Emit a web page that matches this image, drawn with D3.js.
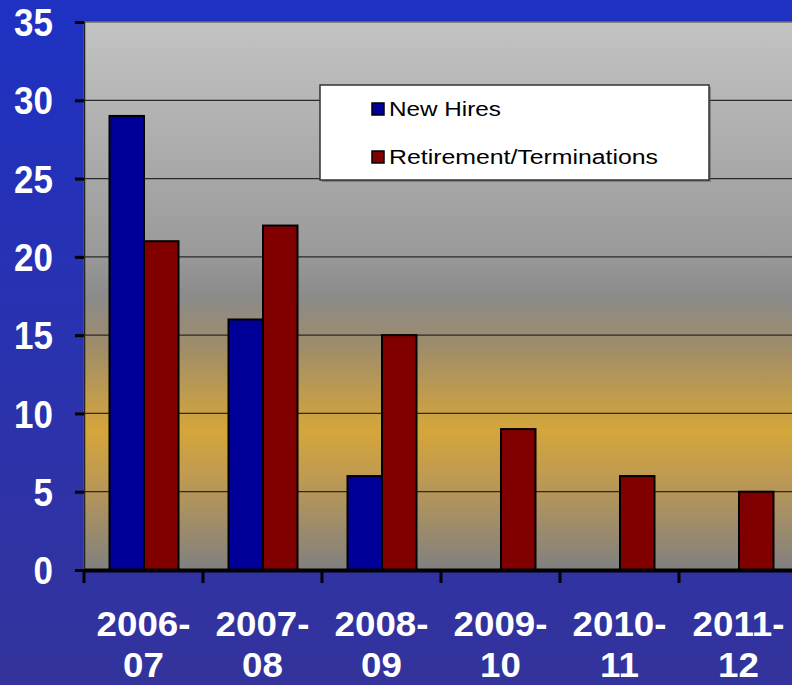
<!DOCTYPE html>
<html><head><meta charset="utf-8">
<script src="https://cdn.jsdelivr.net/npm/d3@7"></script>
<style>body{margin:0;overflow:hidden}svg{display:block}</style>
</head><body>
<script>
const categories = [["2006-","07"],["2007-","08"],["2008-","09"],["2009-","10"],["2010-","11"],["2011-","12"]];
const seriesNames = ["New Hires","Retirement/Terminations"];
const newHires = [29,16,6,0,0,0];
const retirements = [21,22,15,9,6,5];
const yTicks = [0,5,10,15,20,25,30,35];
const colors = ["#000099","#800000"];

const W=792,H=685;
const svg=d3.select("body").append("svg").attr("width",W).attr("height",H);
const defs=svg.append("defs");
const bg=defs.append("linearGradient").attr("id","bg").attr("x1",0).attr("y1",0).attr("x2",0).attr("y2",1);
bg.append("stop").attr("offset",0).attr("stop-color","#1e31c2");
bg.append("stop").attr("offset",1).attr("stop-color","#34339c");
const pg=defs.append("linearGradient").attr("id","pg").attr("x1",0).attr("y1",0).attr("x2",0).attr("y2",1);
[[0,"#c3c3c3"],[0.42,"#9a9a9a"],[0.5,"#8b8b8b"],[0.59,"#9e8c6a"],[0.745,"#d5a63a"],[0.83,"#bf9a52"],[1,"#808080"]]
 .forEach(s=>pg.append("stop").attr("offset",s[0]).attr("stop-color",s[1]));

svg.append("rect").attr("width",W).attr("height",H).attr("fill","url(#bg)");

const L=84,R=798,T=22,B=570;
const x0=d3.scaleBand().domain(categories.map(c=>c.join(""))).range([L,R]);
const x1=d3.scaleBand().domain(seriesNames).range([25.5,94.5]);
const y=d3.scaleLinear().domain([0,35]).range([B,T]);

svg.append("rect").attr("x",L).attr("y",T).attr("width",R-L).attr("height",B-T)
  .attr("fill","url(#pg)").attr("stroke","#6e6e6e").attr("stroke-width",1.5);

// gridlines
svg.append("g").selectAll("line").data(yTicks.filter(v=>v>0&&v<35)).join("line")
  .attr("x1",L).attr("x2",R).attr("y1",d=>y(d)).attr("y2",d=>y(d))
  .attr("stroke","#2a2a2a").attr("stroke-width",1.2);

// bars
const data=categories.map((c,i)=>({cat:c.join(""),vals:[newHires[i],retirements[i]]}));
const g=svg.append("g");
data.forEach(d=>{
  d.vals.forEach((v,j)=>{
    if(v<=0) return;
    g.append("rect").attr("x",x0(d.cat)+x1(seriesNames[j])).attr("y",y(v))
      .attr("width",x1.bandwidth()).attr("height",y(0)-y(v))
      .attr("fill",colors[j]).attr("stroke","#000").attr("stroke-width",2);
  });
});

// y axis
const ya=svg.append("g").attr("transform",`translate(${L},0)`)
  .call(d3.axisLeft(y).tickValues(yTicks).tickSize(9).tickPadding(0));
ya.select(".domain").attr("stroke","#222").attr("stroke-width",1.5);
ya.selectAll(".tick line").attr("stroke","#000").attr("stroke-width",3);
ya.selectAll(".tick text").remove();
svg.append("g").selectAll("text").data(yTicks).join("text")
  .attr("x",53).attr("y",d=>y(d)).attr("dy","0.36em").attr("text-anchor","end")
  .attr("transform",d=>`translate(0,${y(d)}) scale(1,1.12) translate(0,${-y(d)})`)
  .attr("fill","#fff").attr("font-family","Liberation Sans, Arial, sans-serif")
  .attr("font-weight","bold").attr("font-size",35).text(d=>d);

// x axis
const xa=svg.append("g").attr("transform",`translate(0,${B})`)
  .call(d3.axisBottom(x0).tickSize(0).tickFormat(""));
xa.select(".domain").attr("stroke","#000").attr("stroke-width",4);
xa.selectAll(".tick").remove();
svg.append("g").selectAll("line").data(categories.map(c=>c.join(""))).join("line")
  .attr("x1",d=>x0(d)).attr("x2",d=>x0(d)).attr("y1",B).attr("y2",B+13)
  .attr("stroke","#000").attr("stroke-width",3);
const xl=svg.append("g");
categories.forEach(c=>{
  const cx=x0(c.join(""))+x0.bandwidth()/2;
  c.forEach((line,k)=>{
    const by = k===0?636:677;
    xl.append("text").attr("x",0).attr("y",0).attr("text-anchor","middle")
      .attr("transform",`translate(${cx},${by}) scale(1.08,1.04)`)
      .attr("fill","#fff").attr("font-family","Liberation Sans, Arial, sans-serif")
      .attr("font-weight","bold").attr("font-size",34).text(line);
  });
});

// legend
const lg=svg.append("g");
lg.append("rect").attr("x",322).attr("y",87).attr("width",389).attr("height",95).attr("fill","#555").attr("opacity",0.5);
lg.append("rect").attr("x",320).attr("y",85).attr("width",389).attr("height",95)
  .attr("fill","#fff").attr("stroke","#333").attr("stroke-width",1.5);
const ly=[116,164];
seriesNames.forEach((n,i)=>{
  lg.append("rect").attr("x",372).attr("y",ly[i]-13).attr("width",12).attr("height",12)
    .attr("fill",colors[i]).attr("stroke","#000").attr("stroke-width",1.5);
  lg.append("text").attr("x",389).attr("y",ly[i]).attr("fill","#000")
    .attr("font-family","Liberation Sans, Arial, sans-serif").attr("font-size",20)
    .attr("textLength",i===0?112:269).attr("lengthAdjust","spacingAndGlyphs").text(n);
});
</script>
</body></html>
